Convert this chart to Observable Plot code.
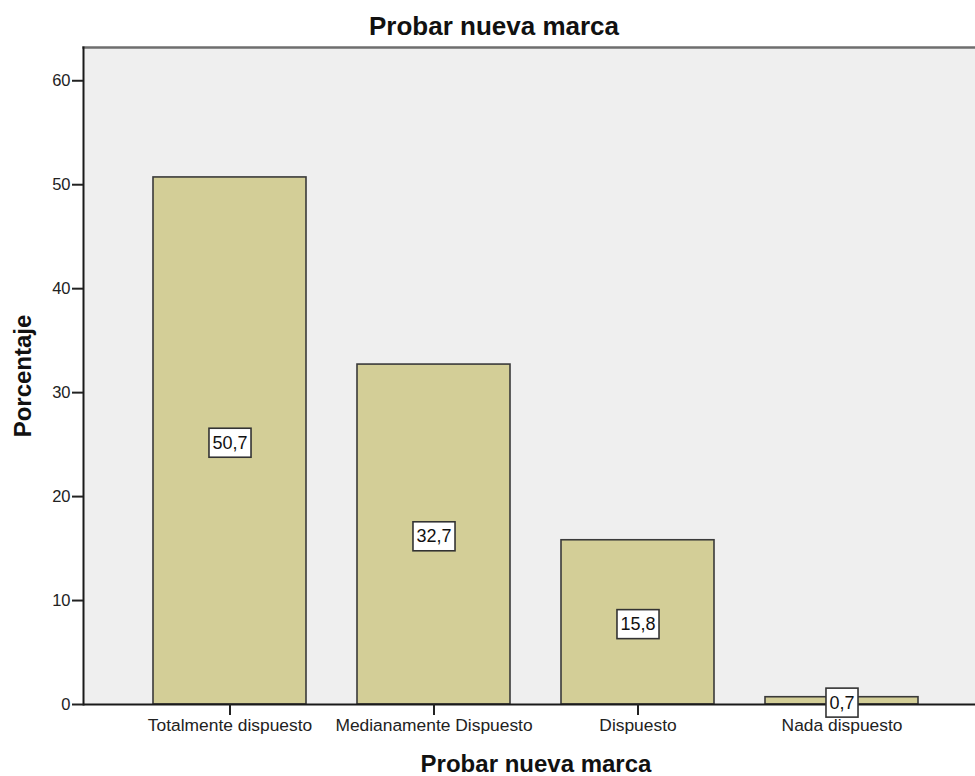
<!DOCTYPE html>
<html>
<head>
<meta charset="utf-8">
<script src="https://cdn.jsdelivr.net/npm/d3@7"></script>
<script src="https://cdn.jsdelivr.net/npm/@observablehq/plot@0.6"></script>
<style>
  html, body { margin: 0; padding: 0; background: white; overflow: hidden; }
  #wrap { position: relative; width: 975px; height: 776px; }
  #title {
    position: absolute; left: 0; top: 13px; width: 988px; text-align: center;
    font-family: "Liberation Sans", Arial, sans-serif; font-weight: bold;
    font-size: 26px; line-height: 26px; color: #111;
  }
  #chart svg { overflow: hidden; }
  #chart [aria-label="y-axis label"] text,
  #chart [aria-label="x-axis label"] text { font-weight: bold; font-size: 24px; fill: #111; }
</style>
</head>
<body>
<div id="wrap">
  <div id="chart"></div>
  <div id="title">Probar nueva marca</div>
</div>
<script>
const categories = ["Totalmente dispuesto", "Medianamente Dispuesto", "Dispuesto", "Nada dispuesto"];
const values = [50.7, 32.7, 15.8, 0.7];
const valueLabels = ["50,7", "32,7", "15,8", "0,7"];
const yTicks = [0, 10, 20, 30, 40, 50, 60];
const yTitle = "Porcentaje";
const xTitle = "Probar nueva marca";

const data = categories.map((c, i) => ({cat: c, value: values[i], label: valueLabels[i]}));

const chart = Plot.plot({
  width: 975,
  height: 776,
  marginLeft: 83,
  marginTop: 47,
  marginBottom: 72,
  marginRight: -13,
  style: {fontFamily: "'Liberation Sans', Arial, sans-serif", background: "white", overflow: "hidden"},
  x: {domain: categories, paddingInner: 0.25, paddingOuter: 0.343, label: null},
  y: {domain: [0, 63.2], label: null},
  marks: [
    Plot.frame({fill: "#efefef", stroke: null}),
    Plot.frame({anchor: "top", stroke: "#6e6e6e", strokeWidth: 2.5}),
    Plot.barY(data, {x: "cat", y: "value", fill: "#d3ce97", stroke: "#3a3a3a", strokeWidth: 1.6}),
    Plot.frame({anchor: "left", stroke: "#1a1a1a", strokeWidth: 2}),
    Plot.ruleY([0], {stroke: "#1a1a1a", strokeWidth: 2}),
    Plot.axisY({ticks: yTicks, tickSize: 11, tickPadding: 2, fontSize: 16.5, color: "#222", strokeWidth: 2,
      label: yTitle, labelArrow: "none", labelAnchor: "center", labelOffset: 70}),
    Plot.axisX({tickSize: 11, tickPadding: 3, fontSize: 17.4, color: "#222", strokeWidth: 2,
      label: xTitle, labelArrow: "none", labelAnchor: "center", labelOffset: 67}),
    Plot.text(data, {x: "cat", y: d => d.value / 2, text: "label", fontSize: 18, dy: 2, fill: "#111", className: "vlabel"})
  ]
});

document.getElementById("chart").appendChild(chart);

// draw boxes behind the value labels
d3.select(chart).selectAll("g.vlabel text").each(function () {
  const b = this.getBBox();
  d3.select(this.parentNode).insert("rect", () => this)
    .attr("transform", this.getAttribute("transform"))
    .attr("x", b.x - 3.5).attr("y", b.y - 4.5)
    .attr("width", b.width + 7).attr("height", b.height + 9)
    .attr("fill", "white").attr("stroke", "#333").attr("stroke-width", 1.6);
});
</script>
</body>
</html>
